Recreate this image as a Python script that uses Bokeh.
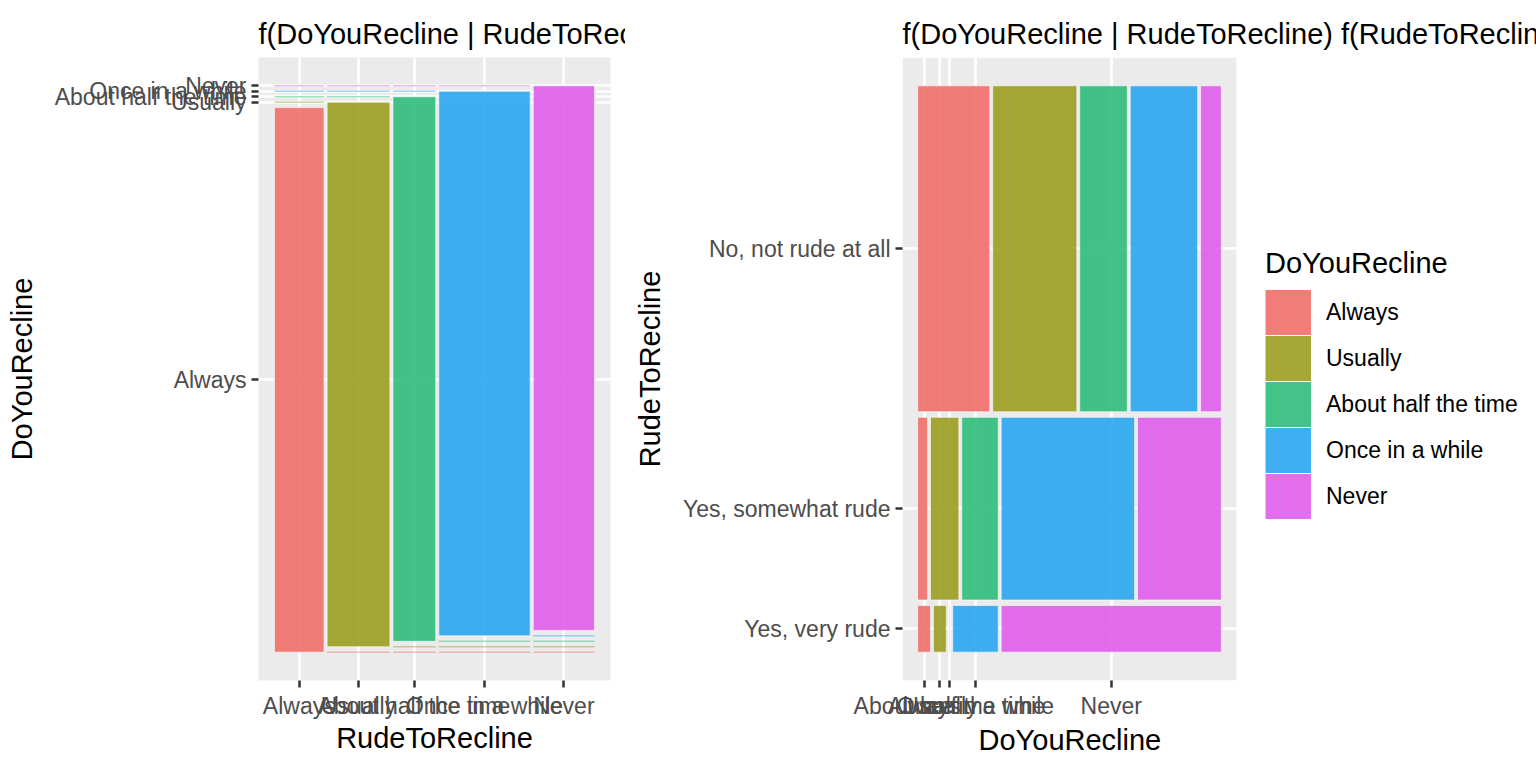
from bokeh.plotting import figure
from bokeh.models import FixedTicker, Range1d, Legend, LegendItem, ColumnDataSource, Title
from bokeh.layouts import row
from bokeh.embed import file_html
from bokeh.resources import INLINE

FONT = "Liberation Sans"

# ---------------- data ----------------
recline_levels = ["Always", "Usually", "About half the time", "Once in a while", "Never"]
recline_colors = ["#F16E69", "#9B9D20", "#2FBC7A", "#2AA6F1", "#DF5DEB"]

# marginal share of DoYouRecline (left panel column widths)
recline_share = [0.161, 0.204, 0.139, 0.297, 0.199]
# DoYouRecline | DoYouRecline (left panel, each column is its own level)
left_conditional = [
    [1.0, 0.0, 0.0, 0.0, 0.0],
    [0.0, 1.0, 0.0, 0.0, 0.0],
    [0.0, 0.0, 1.0, 0.0, 0.0],
    [0.0, 0.0, 0.0, 1.0, 0.0],
    [0.0, 0.0, 0.0, 0.0, 1.0],
]

# RudeToRecline levels, bottom to top in the right panel
rude_levels = ["Yes, very rude", "Yes, somewhat rude", "No, not rude at all"]
rude_share = [0.084, 0.329, 0.587]
recline_given_very_rude = [0.044, 0.044, 0.002, 0.156, 0.754]
recline_given_somewhat_rude = [0.034, 0.097, 0.125, 0.457, 0.287]
recline_given_not_rude = [0.247, 0.288, 0.163, 0.231, 0.071]
right_conditional = [recline_given_very_rude, recline_given_somewhat_rude, recline_given_not_rude]

title_text = "f(DoYouRecline | RudeToRecline) f(RudeToRecline)"
OFFSET = 0.01
ALPHA = 0.9
PANEL_BG = "#EBEBEB"


def spine(props, offset=OFFSET):
    starts, ends, pos = [], [], 0.0
    for v in props:
        starts.append(pos)
        ends.append(pos + v)
        pos += v + offset
    return starts, ends


def mid(a, b):
    return round((a + b) / 2.0, 6)


def make_fig(width, min_left, min_right, xr, yr, bg):
    p = figure(width=width, height=768, output_backend="svg", toolbar_location=None,
               x_range=xr, y_range=yr, min_border_left=min_left, min_border_right=min_right,
               min_border_top=57, min_border_bottom=88, title=title_text)
    p.background_fill_color = bg
    p.border_fill_color = "white"
    p.outline_line_color = None
    p.title.text_font = FONT
    p.title.text_font_size = "29px"
    p.title.text_font_style = "normal"
    p.title.text_color = "black"
    p.title.align = "left"
    p.title.standoff = 15
    return p


def style_axes(p, xticks, xlabels, yticks, ylabels, xtitle, ytitle):
    p.xaxis.ticker = FixedTicker(ticks=xticks, minor_ticks=[])
    p.yaxis.ticker = FixedTicker(ticks=yticks, minor_ticks=[])
    p.xgrid.ticker = FixedTicker(ticks=xticks, minor_ticks=[])
    p.ygrid.ticker = FixedTicker(ticks=yticks, minor_ticks=[])
    p.xaxis.major_label_overrides = {t: l for t, l in zip(xticks, xlabels)}
    p.yaxis.major_label_overrides = {t: l for t, l in zip(yticks, ylabels)}
    if xtitle:
        p.xaxis.axis_label = xtitle
    p.yaxis.axis_label = ytitle
    for ax in (p.xaxis[0], p.yaxis[0]):
        ax.axis_line_color = None
        ax.major_tick_line_color = "#333333"
        ax.major_tick_line_width = 2.5
        ax.major_tick_out = 7
        ax.major_tick_in = 0
        ax.minor_tick_line_color = None
        ax.major_label_text_font = FONT
        ax.major_label_text_font_size = "23px"
        ax.major_label_text_color = "#4D4D4D"
        ax.major_label_standoff = 5
        ax.axis_label_text_font = FONT
        ax.axis_label_text_font_size = "29px"
        ax.axis_label_text_font_style = "normal"
        ax.axis_label_text_color = "black"
    p.xaxis.axis_label_standoff = 0
    p.yaxis.axis_label_standoff = 14
    for g in (p.xgrid[0], p.ygrid[0]):
        g.grid_line_color = "white"
        g.grid_line_width = 2.7
        g.minor_grid_line_color = None


def draw_tiles(p, tiles, slivers):
    for j, c in enumerate(recline_colors):
        p.quad(source=ColumnDataSource(tiles[j]), left="left", right="right",
               bottom="bottom", top="top", fill_color=c, fill_alpha=ALPHA,
               line_color="white", line_alpha=0.6, line_width=1)
        if slivers[j]["x0"]:
            p.segment(source=ColumnDataSource(slivers[j]), x0="x0", y0="y", x1="x1", y1="y",
                      line_color=c, line_alpha=0.45, line_width=1.5)


def empty_sets():
    tiles = [dict(left=[], right=[], bottom=[], top=[]) for _ in recline_levels]
    slivers = [dict(x0=[], x1=[], y=[]) for _ in recline_levels]
    return tiles, slivers


# ---------------- left panel ----------------
cx0, cx1 = spine(recline_share)
tiles_l, slivers_l = empty_sets()
first_col_y = None
for i in range(len(recline_levels)):
    y0, y1 = spine(left_conditional[i])
    if first_col_y is None:
        first_col_y = (y0, y1)
    for j in range(len(recline_levels)):
        if y1[j] - y0[j] > 0:
            tiles_l[j]["left"].append(cx0[i]); tiles_l[j]["right"].append(cx1[i])
            tiles_l[j]["bottom"].append(y0[j]); tiles_l[j]["top"].append(y1[j])
        else:
            slivers_l[j]["x0"].append(cx0[i]); slivers_l[j]["x1"].append(cx1[i])
            slivers_l[j]["y"].append(y0[j])

lx_total = cx1[-1]
ly_total = first_col_y[1][-1]
p1 = make_fig(625, 258, 15,
              Range1d(-0.05 * lx_total, 1.05 * lx_total),
              Range1d(-0.05 * ly_total, 1.05 * ly_total), PANEL_BG)
draw_tiles(p1, tiles_l, slivers_l)
style_axes(p1,
           [mid(a, b) for a, b in zip(cx0, cx1)], recline_levels,
           [mid(a, b) for a, b in zip(*first_col_y)], recline_levels,
           "RudeToRecline", "DoYouRecline")

# ---------------- right panel ----------------
ry0, ry1 = spine(rude_share)
tiles_r, slivers_r = empty_sets()
bottom_row_x = None
for r in range(len(rude_levels)):
    x0, x1 = spine(right_conditional[r])
    if bottom_row_x is None:
        bottom_row_x = (x0, x1)
    for j in range(len(recline_levels)):
        tiles_r[j]["left"].append(x0[j]); tiles_r[j]["right"].append(x1[j])
        tiles_r[j]["bottom"].append(ry0[r]); tiles_r[j]["top"].append(ry1[r])

rx_total = bottom_row_x[1][-1]
ry_total = ry1[-1]
PANEL_W, LEGEND_W = 334, 300          # pixels: grey panel, legend area to its right
rx_start, rx_panel_end = -0.05 * rx_total, 1.05 * rx_total
units_per_px = (rx_panel_end - rx_start) / PANEL_W
rx_end = rx_panel_end + LEGEND_W * units_per_px
ry_start, ry_end = -0.05 * ry_total, 1.05 * ry_total

p2 = make_fig(911, 277, 0, Range1d(rx_start, rx_end), Range1d(ry_start, ry_end), "white")
# grey panel background only under the mosaic, legend area stays white
p2.quad(left=[rx_start], right=[rx_panel_end], bottom=[ry_start], top=[ry_end],
        fill_color=PANEL_BG, line_color=None, level="image")
draw_tiles(p2, tiles_r, slivers_r)
style_axes(p2,
           [mid(a, b) for a, b in zip(*bottom_row_x)], recline_levels,
           [mid(a, b) for a, b in zip(ry0, ry1)], rude_levels,
           None, "RudeToRecline")
xtitle = Title(text="DoYouRecline", align="left", offset=76, standoff=0,
               text_font=FONT, text_font_size="29px", text_font_style="normal",
               text_color="black")
p2.add_layout(xtitle, "below")

# legend keys: off-screen thick lines whose legend swatch is a full square
key_renderers = [p2.line(x=[rx_start - 5, rx_start - 4], y=[ry_start - 5, ry_start - 5],
                         line_color=c, line_alpha=ALPHA, line_width=45)
                 for c in recline_colors]
legend = Legend(items=[LegendItem(label=lvl, renderers=[rr]) for lvl, rr in zip(recline_levels, key_renderers)],
                location=(363, 161), orientation="vertical")
legend.title = "DoYouRecline"
legend.title_text_font = FONT
legend.title_text_font_size = "29px"
legend.title_text_font_style = "normal"
legend.title_text_color = "black"
legend.title_standoff = 9
legend.label_text_font = FONT
legend.label_text_font_size = "23px"
legend.label_text_color = "black"
legend.glyph_width = 46
legend.glyph_height = 46
legend.spacing = 0
legend.padding = 0
legend.margin = 0
legend.label_standoff = 15
legend.border_line_color = None
legend.background_fill_alpha = 0
p2.add_layout(legend)

layout = row(p1, p2)
open("out.html", "w").write(file_html(layout, INLINE))
